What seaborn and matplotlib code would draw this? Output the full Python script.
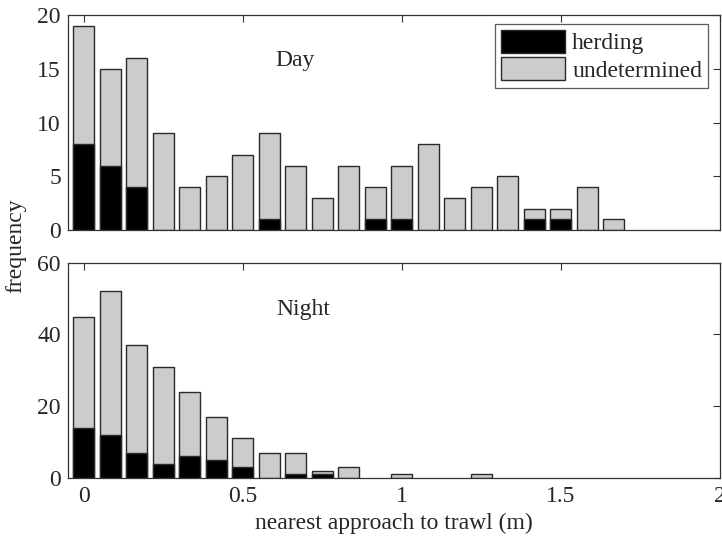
import numpy as np
import pandas as pd
import matplotlib
matplotlib.use("Agg")
import matplotlib.pyplot as plt
import seaborn as sns
from matplotlib.patches import Patch

# ---- data ----
bin_step = 1 / 12
day_total = [19, 15, 16, 9, 4, 5, 7, 9, 6, 3, 6, 4, 6, 8, 3, 4, 5, 2, 2, 4, 1]
day_herding = [8, 6, 4, 0, 0, 0, 0, 1, 0, 0, 0, 1, 1, 0, 0, 0, 0, 1, 1, 0, 0]
night_total = [45, 52, 37, 31, 24, 17, 11, 7, 7, 2, 3, 0, 1, 0, 0, 1]
night_herding = [14, 12, 7, 4, 6, 5, 3, 0, 1, 1, 0, 0, 0, 0, 0, 0]
x_ticks = [0, 0.5, 1, 1.5, 2]
x_ticklabels = ["0", "0.5", "1", "1.5", "2"]
day_yticks = [0, 5, 10, 15, 20]
night_yticks = [0, 20, 40, 60]

FS = 17
sns.set_style("white")
plt.rcParams["font.family"] = ["Liberation Serif", "DejaVu Serif"]
plt.rcParams["font.size"] = FS

fig = plt.figure(figsize=(7.22, 5.43), dpi=100)
ax1 = fig.add_axes([0.094, 0.576, 0.903, 0.396])
ax2 = fig.add_axes([0.094, 0.120, 0.903, 0.396])

GRAY = "#cccccc"
EDGE = "#2a2a2a"


def panel(ax, total, herd, yticks, label, lx, ly):
    n = len(total)
    xs = np.round(np.arange(n) * bin_step, 6)
    df = pd.DataFrame({"x": xs, "total": total, "herd": herd})
    df = df[df["total"] > 0]
    sns.barplot(data=df, x="x", y="total", native_scale=True, color=GRAY,
                saturation=1, width=0.8, edgecolor=EDGE, linewidth=1.0,
                ax=ax, errorbar=None)
    dh = df[df["herd"] > 0]
    sns.barplot(data=dh, x="x", y="herd", native_scale=True, color="black",
                saturation=1, width=0.8, edgecolor=EDGE, linewidth=1.0,
                ax=ax, errorbar=None)
    ax.set_xlim(-0.05, 2)
    ax.set_ylim(yticks[0], yticks[-1])
    ax.set_yticks(yticks)
    ax.set_xticks(x_ticks)
    ax.set_xlabel("")
    ax.set_ylabel("")
    ax.tick_params(direction="in", top=True, right=True, length=5,
                   width=0.8, color="#333333", labelsize=FS, pad=5)
    ax.tick_params(axis="x", pad=6)
    for s in ax.spines.values():
        s.set_visible(True)
        s.set_color("#333333")
        s.set_linewidth(0.9)
    ax.text(lx, ly, label, fontsize=FS, ha="center", va="center")


panel(ax1, day_total, day_herding, day_yticks, "Day", 0.665, 15.8)
panel(ax2, night_total, night_herding, night_yticks, "Night", 0.69, 47)
ax1.set_xticklabels([])
ax2.set_xticklabels(x_ticklabels)

handles = [Patch(facecolor="black", edgecolor=EDGE, label="herding"),
           Patch(facecolor=GRAY, edgecolor=EDGE, label="undetermined")]
leg = ax1.legend(handles=handles, loc="upper right", fontsize=FS,
                 frameon=True, fancybox=False, edgecolor="#333333",
                 handlelength=2.7, handleheight=1.1, borderpad=0.25,
                 labelspacing=0.12, handletextpad=0.3, borderaxespad=0,
                 bbox_to_anchor=(0.982, 0.958))
leg.get_frame().set_linewidth(0.9)

fig.text(0.022, 0.548, "frequency", rotation=90, ha="center", va="center",
         fontsize=FS)
fig.text(0.545, 0.036, "nearest approach to trawl (m)", ha="center",
         va="center", fontsize=FS)

fig.savefig("out.png", dpi=100)
